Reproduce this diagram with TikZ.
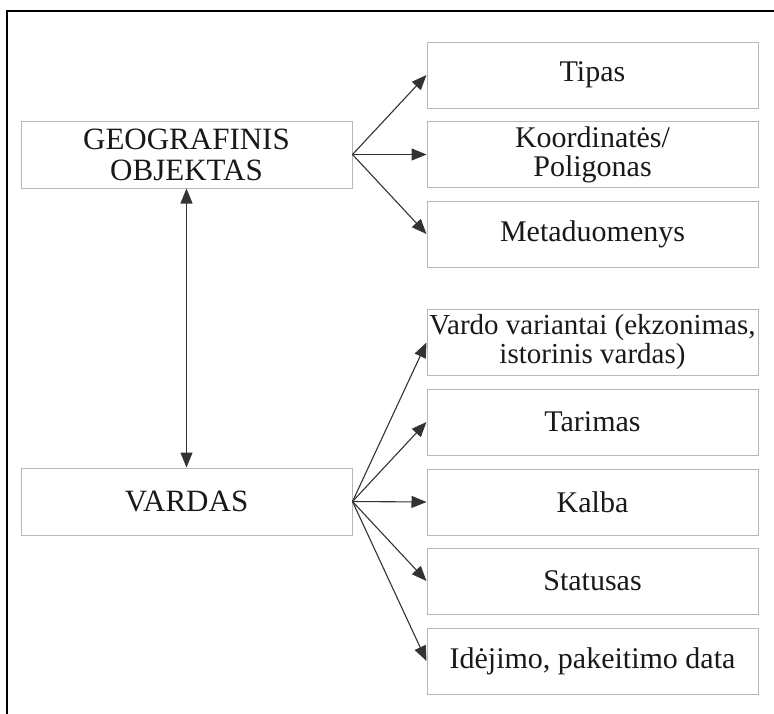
\documentclass[tikz,border=0pt]{standalone}
\usepackage{fontspec}
\setmainfont{Liberation Serif}
\usetikzlibrary{arrows.meta}
\definecolor{boxgray}{gray}{0.72}
\tikzset{
  box/.style={draw=boxgray, line width=1pt, rectangle, inner sep=0pt,
    minimum width=331pt, minimum height=66pt, align=center, text=black!90,
    font=\fontsize{30pt}{29pt}\selectfont},
  tip/.tip={Triangle[length=15pt,width=12pt]},
  arr/.style={draw=black!80, line width=1.1pt, -tip},
  darr/.style={draw=black!80, line width=1.1pt, tip-tip},
  frame/.style={draw=black, line width=2pt}
}
\begin{document}
\begin{tikzpicture}[x=1pt,y=-1pt]
\useasboundingbox (0,0) rectangle (774,713);
\coordinate (fbl) at (7,716);
\coordinate (ftl) at (7,11);
\coordinate (ftr) at (777,11);
\draw[frame] (fbl) -- (ftl) -- (ftr);

\node[box, minimum height=67pt, font=\fontsize{31pt}{31pt}\selectfont] (geo) at (186.5,154.5) {GEOGRAFINIS\\OBJEKTAS};
\node[box, minimum height=67pt, font=\fontsize{31pt}{31pt}\selectfont] (vardas) at (186.5,501.5) {VARDAS};

\node[box] (tipas) at (592.5,75) {Tipas};
\node[box] (koord) at (592.5,154.5) {Koordinatės/\\Poligonas};
\node[box] (meta) at (592.5,234) {Metaduomenys};

\node[box, font=\fontsize{29pt}{29pt}\selectfont] (variantai) at (592.5,342.5) {Vardo variantai (ekzonimas,\\istorinis vardas)};
\node[box] (tarimas) at (592.5,422) {Tarimas};
\node[box] (kalba) at (592.5,502) {Kalba};
\node[box] (statusas) at (592.5,581) {Statusas};
\node[box] (data) at (592.5,661) {Idėjimo, pakeitimo data};

\foreach \t in {tipas,koord,meta}
  \draw[arr] (geo.east) -- (\t.west);
\foreach \t in {variantai,tarimas,kalba,statusas,data}
  \draw[arr] (vardas.east) -- (\t.west);

\draw[darr] (geo.south) -- (vardas.north);
\end{tikzpicture}
\end{document}
